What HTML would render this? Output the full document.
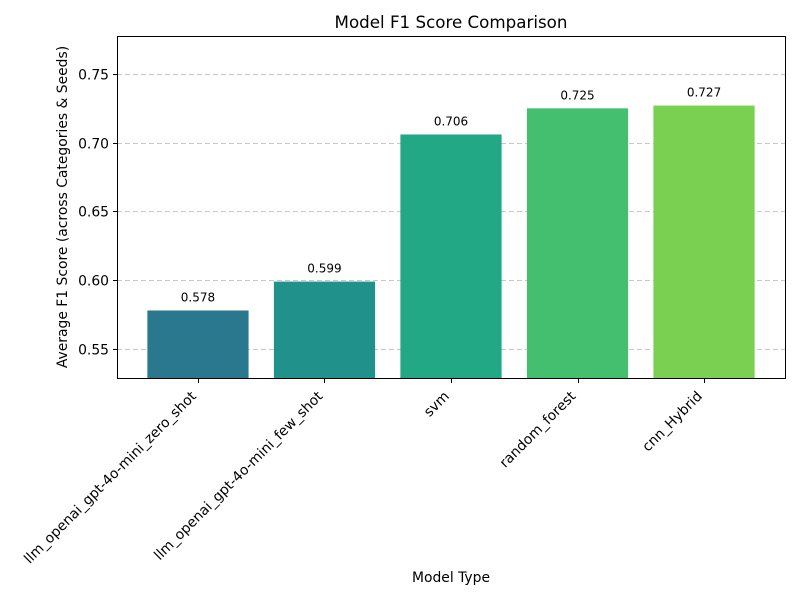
<!DOCTYPE html>
<html><head><meta charset="utf-8"><style>
body{margin:0;background:#fff}
svg text{font-family:"DejaVu Sans","Liberation Sans",sans-serif;fill:#000}
</style></head><body>
<svg id="chart" width="800" height="600" xmlns="http://www.w3.org/2000/svg">
<rect width="800" height="600" fill="#fff"/>
<text x="451" y="28" font-size="16.7" text-anchor="middle">Model F1 Score Comparison</text>
<g id="grid"></g>
<g id="bars"></g>
<g id="yaxis"></g>
<g id="xaxis"></g>
<rect x="117.5" y="36.5" width="668" height="342" fill="none" stroke="#000" stroke-width="1"/>
<text transform="translate(67,207) rotate(-90)" font-size="13.9" text-anchor="middle">Average F1 Score (across Categories &amp; Seeds)</text>
<text x="451" y="582" font-size="13.9" text-anchor="middle">Model Type</text>
</svg>
<script>
const categories=["llm_openai_gpt-4o-mini_zero_shot","llm_openai_gpt-4o-mini_few_shot","svm","random_forest","cnn_Hybrid"];
const values=[0.578,0.599,0.706,0.725,0.727];
const labels=["0.578","0.599","0.706","0.725","0.727"];
const colors=["#2a788e","#21918c","#22a884","#44bf70","#7ad151"];
const yTicks=[0.55,0.60,0.65,0.70,0.75];
const yTickLabels=["0.55","0.60","0.65","0.70","0.75"];
const NS="http://www.w3.org/2000/svg";
const x0=117,x1=785,yTop=36,yBot=378,yMin=0.5289,yMax=0.7776;
const y=v=>yBot-(v-yMin)/(yMax-yMin)*(yBot-yTop);
const step=(x1-x0)/(categories.length+0.28);
const xc=i=>x0+step*0.64+i*step;
const bw=step*0.8;
function mk(t,a,p){const e=document.createElementNS(NS,t);for(const k in a)e.setAttribute(k,a[k]);p.appendChild(e);return e;}
const grid=document.getElementById('grid'),bars=document.getElementById('bars'),ya=document.getElementById('yaxis'),xa=document.getElementById('xaxis');
yTicks.forEach((t,i)=>{
 const yy=Math.round(y(t))+0.5;
 const g=mk('line',{x1:x0,x2:x1,y1:yy,y2:yy,stroke:'#c8c8c8','stroke-dasharray':'5,3','stroke-width':1},grid);
 
 
 const tk=mk('line',{x1:x0-4,x2:x0,y1:yy,y2:yy,stroke:'#000'},ya);
 
 
 const tx=mk('text',{x:x0-8,y:yy+5,'font-size':13.9,'text-anchor':'end'},ya);
 tx.textContent=yTickLabels[i];
 
 
});
categories.forEach((c,i)=>{
 const top=y(values[i]);
 const r=mk('rect',{x:xc(i)-bw/2,y:top,width:bw,height:yBot-top,fill:colors[i]},bars);
 
 
 const v=mk('text',{x:xc(i),y:top-9,'font-size':12,'text-anchor':'middle'},bars);
 v.textContent=labels[i];
 
 
 const tk=mk('line',{x1:Math.round(xc(i))+0.5,x2:Math.round(xc(i))+0.5,y1:yBot,y2:yBot+5,stroke:'#000'},xa);
 
 
 const lx=xc(i)-1,ly=yBot+19;
 const t=mk('text',{x:lx,y:ly,'font-size':13.9,'text-anchor':'end',transform:`rotate(-45 ${lx} ${ly})`},xa);
 t.textContent=c;
 
 
});
</script>
</body></html>
